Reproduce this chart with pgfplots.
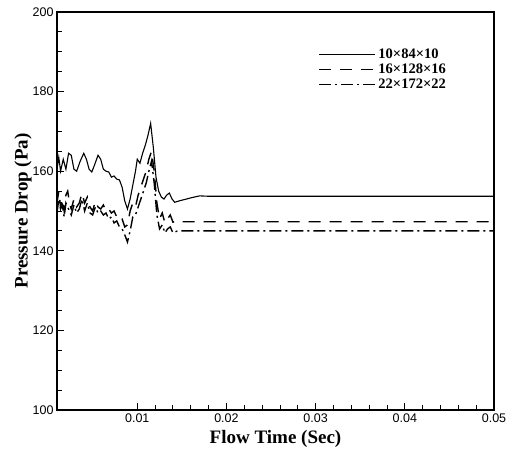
\documentclass[border=0pt]{standalone}
\usepackage{fontspec}
\setmainfont{Liberation Serif}
\setsansfont{Liberation Sans}
\usepackage{pgfplots}
\pgfplotsset{compat=1.18}
\begin{document}
\begin{tikzpicture}
\begin{axis}[
  scale only axis, width=437pt, height=398pt,
  xmin=0.001, xmax=0.05, ymin=100, ymax=200,
  xtick={0.01,0.02,0.03,0.04,0.05},
  xticklabels={0.01,0.02,0.03,0.04,0.05},
  scaled x ticks=false,
  ytick={100,120,140,160,180,200},
  minor x tick num=4, minor y tick num=3,
  tick pos=left, tick align=inside,
  major tick length=7pt, minor tick length=5pt,
  axis line style={line width=1.6pt},
  every tick/.style={black, line width=0.9pt},
  /pgf/number format/assume math mode=true,
  tick label style={font=\fontsize{12.5}{13}\selectfont\sffamily},
  xlabel={\textbf{Flow Time (Sec)}},
  ylabel={\textbf{Pressure Drop (Pa)}},
  label style={font=\fontsize{19}{21}\selectfont},
  xlabel style={yshift=-1pt},
  ylabel style={yshift=-6pt},
  legend style={draw=none, fill=none, at={(rel axis cs:0.597,0.908)}, anchor=north west,
    font=\fontsize{14.5}{15}\selectfont\bfseries, row sep=4pt, inner sep=0pt,
    nodes={inner sep=0pt}},
  legend cell align=left,
  legend image code/.code={\draw[#1] (0pt,0pt) -- (56pt,0pt); \path (59pt,0pt);},
]
\addplot[black, line width=1.1pt] coordinates {
(0.0010,160.5) (0.0012,163.5) (0.0014,160.0) (0.0017,163.0) (0.0020,160.5)
(0.0023,164.5) (0.0026,164.0) (0.0029,160.5) (0.0032,160.0) (0.0036,162.5)
(0.0040,164.5) (0.0043,163.0) (0.0046,160.5) (0.0049,159.8) (0.0052,161.5)
(0.0056,164.0) (0.0059,163.0) (0.0062,160.5) (0.0065,160.0) (0.0068,159.8)
(0.0071,158.5) (0.0074,158.8) (0.0077,158.0) (0.0080,157.8) (0.0083,156.0)
(0.0086,152.5) (0.0089,150.5) (0.0092,153.0) (0.0095,156.5) (0.0098,160.0)
(0.0100,163.0) (0.0103,162.0) (0.0106,164.5) (0.0109,166.5) (0.0112,169.0)
(0.0115,172.0) (0.0118,166.0) (0.0121,158.5) (0.0124,155.0) (0.0127,153.5)
(0.0130,153.0) (0.0133,154.0) (0.0136,154.5) (0.0139,153.0) (0.0142,152.2)
(0.0148,152.6) (0.0155,153.0) (0.0162,153.4) (0.0170,153.8) (0.0180,153.7)
(0.0500,153.7)
};
\addlegendentry{10×84×10}
\addplot[black, line width=1.4pt, dash pattern=on 12pt off 9pt] coordinates {
(0.0010,152) (0.0012,155) (0.0014,151) (0.0016,153) (0.0018,150) (0.0020,154)
(0.0022,155) (0.0024,152) (0.0026,150.5) (0.0029,153) (0.0032,151) (0.0035,152)
(0.0038,154.5) (0.0041,152) (0.0044,153.5) (0.0047,151) (0.0050,150) (0.0053,152.5)
(0.0056,151) (0.0059,150.5) (0.0062,151.5) (0.0065,150) (0.0068,150.5) (0.0071,149.5)
(0.0074,150) (0.0077,148.5) (0.0080,149) (0.0083,148) (0.0086,146) (0.0089,146.5)
(0.0092,150) (0.0095,152) (0.0098,151) (0.0101,154) (0.0104,156) (0.0107,158)
(0.0110,160) (0.0113,163) (0.0116,165) (0.0119,160) (0.0122,152) (0.0125,148)
(0.0128,149.5) (0.0131,147) (0.0134,148) (0.0137,149) (0.0140,147.2) (0.0145,147.6)
(0.0150,147.3) (0.0500,147.3)
};
\addlegendentry{16×128×16}
\addplot[black, line width=1.4pt, dash pattern=on 12pt off 4pt on 2pt off 4pt] coordinates {
(0.0010,149.5) (0.0012,153) (0.0014,150.5) (0.0016,151.5) (0.0018,148.5) (0.0020,152)
(0.0022,151) (0.0024,150) (0.0026,149) (0.0029,151.5) (0.0032,149.5) (0.0035,150.5)
(0.0038,153) (0.0041,150) (0.0044,152) (0.0047,149.5) (0.0050,149) (0.0053,151)
(0.0056,149.5) (0.0059,150) (0.0062,149) (0.0065,149.5) (0.0068,148) (0.0071,148.5)
(0.0074,147) (0.0077,147.5) (0.0080,146) (0.0083,145.5) (0.0086,144) (0.0089,142.2)
(0.0092,145) (0.0095,148.5) (0.0098,149) (0.0101,151) (0.0104,153) (0.0107,155)
(0.0110,157) (0.0113,160) (0.0116,162.5) (0.0119,157) (0.0122,149) (0.0125,145.5)
(0.0128,146.5) (0.0131,144.5) (0.0134,145.5) (0.0137,146) (0.0140,144.5) (0.0145,145)
(0.0150,145) (0.0500,145)
};
\addlegendentry{22×172×22}
\end{axis}
\pgfresetboundingbox
\path ([shift={(-57pt,-44pt)}]current axis.south west) rectangle ([shift={(12pt,12pt)}]current axis.north east);
\end{tikzpicture}
\end{document}
